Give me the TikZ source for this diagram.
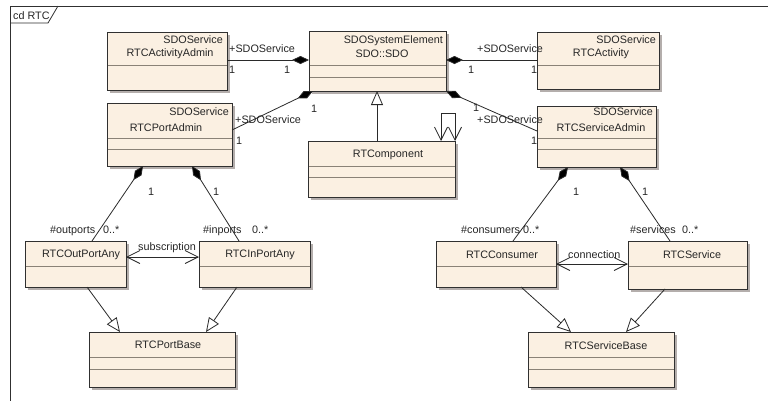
\documentclass[tikz,border=0pt]{standalone}
\usepackage{fontspec}
\setmainfont{Liberation Sans}
\usetikzlibrary{arrows.meta,calc}
\definecolor{boxfill}{HTML}{FBF0E2}
\definecolor{boxline}{HTML}{303030}
\definecolor{divc}{HTML}{8A8277}
\definecolor{shadowc}{HTML}{B4AEAC}
\definecolor{linec}{HTML}{2A2A2A}
\definecolor{txtc}{HTML}{262626}
\newcommand\umlcls[5]{%
  \fill[shadowc] (#2+3,#3+3) rectangle ++(#4,#5);
  \node[cls, minimum width=#4pt, minimum height=#5pt] (#1) at (#2,#3) {};
}
\newcommand\umldiv[2]{%
  \draw[divl] ($(#1.north west)+(0.5,#2)$) -- ($(#1.north east)+(-0.5,#2)$);
}
\begin{document}
\begin{tikzpicture}[x=1pt,y=-1pt,
  cls/.style={draw=boxline, fill=boxfill, line width=1pt, inner sep=0pt, outer sep=0pt, anchor=north west, rectangle},
  divl/.style={draw=divc, line width=1pt},
  txt/.style={text=txtc, inner sep=0pt, font=\fontsize{10.8}{12}\selectfont},
  conn/.style={draw=linec, line width=0.8pt},
  comp/.style={conn, -{Diamond[length=17pt,width=8pt,fill=black]}},
  gen/.style={conn, -{Triangle[length=14pt,width=12pt,fill=white]}},
  nav/.style={conn, {Straight Barb[length=13pt,width=13pt]}-{Straight Barb[length=13pt,width=13pt]}},
]
\useasboundingbox (0,0) rectangle (768,400);
\fill[white] (0,0) rectangle (768,400);
% frame
\draw[draw=boxline, line width=1pt] (10,401) -- (10,6) -- (769,6);
\draw[draw=boxline, line width=0.8pt] (10,23) -- (48,23) -- (58,6);
\node[txt, anchor=base west] (frametitle) at (13,19) {cd RTC};

% classes
\umlcls{aa}{107}{32}{120}{58}
\umldiv{aa}{33}
\umlcls{sdo}{309}{31}{137}{60}
\umldiv{sdo}{34}\umldiv{sdo}{46}
\umlcls{act}{537}{32}{122}{57}
\umldiv{act}{33}
\umlcls{pa}{107}{103}{125}{63}
\umldiv{pa}{35}\umldiv{pa}{46}
\umlcls{sa}{537}{106}{119}{61}
\umldiv{sa}{32}\umldiv{sa}{43}
\umlcls{comp}{308}{141}{147}{56}
\umldiv{comp}{25}\umldiv{comp}{36}
\umlcls{out}{25}{241}{101}{46}
\umldiv{out}{25}
\umlcls{in}{199}{241}{111}{46}
\umldiv{in}{25}
\umlcls{pb}{89}{332}{146}{55}
\umldiv{pb}{25}\umldiv{pb}{37}
\umlcls{con}{436}{241}{120}{46}
\umldiv{con}{25}
\umlcls{srv}{628}{241}{119}{48}
\umldiv{srv}{25}
\umlcls{sb}{528}{332}{146}{55}
\umldiv{sb}{25}\umldiv{sb}{37}

% class texts
\node[txt, anchor=base east] (aa-st) at (223,43) {SDOService};
\node[txt, anchor=base] (aa-nm) at (170,56) {RTCActivityAdmin};
\node[txt, anchor=base east] (sdo-st) at (443,43) {SDOSystemElement};
\node[txt, anchor=base] (sdo-nm) at (382,57) {SDO::SDO};
\node[txt, anchor=base east] (act-st) at (656,43) {SDOService};
\node[txt, anchor=base] (act-nm) at (601,56) {RTCActivity};
\node[txt, anchor=base east] (pa-st) at (229,115) {SDOService};
\node[txt, anchor=base] (pa-nm) at (166,131) {RTCPortAdmin};
\node[txt, anchor=base east] (sa-st) at (653,115) {SDOService};
\node[txt, anchor=base] (sa-nm) at (601,131) {RTCServiceAdmin};
\node[txt, anchor=base] (comp-nm) at (388,157) {RTComponent};
\node[txt, anchor=base] (out-nm) at (81,257) {RTCOutPortAny};
\node[txt, anchor=base] (in-nm) at (260,257) {RTCInPortAny};
\node[txt, anchor=base] (pb-nm) at (168,348) {RTCPortBase};
\node[txt, anchor=base] (con-nm) at (502,258) {RTCConsumer};
\node[txt, anchor=base] (srv-nm) at (692,258) {RTCService};
\node[txt, anchor=base] (sb-nm) at (606,349) {RTCServiceBase};

% compositions to SDO
\draw[comp] ($(aa.north east)+(0,28)$) -- ($(sdo.north west)+(0,29)$);
\draw[comp] ($(act.north west)+(0,28)$) -- ($(sdo.north east)+(0,29)$);
\draw[comp] ($(pa.north east)+(0,27)$) -- ($(sdo.south west)+(4,0)$);
\draw[comp] ($(sa.north west)+(0,25)$) -- (sdo.south east);
% generalization RTComponent -> SDO
\draw[gen] ($(comp.north west)+(69,0)$) -- ($(sdo.south west)+(68,0)$);
% self association
\draw[nav] ($(comp.north west)+(133,0)$) -- ++(0,-28) -| (comp.north east);

% labels of SDO associations
\node[txt, anchor=base west] (l1) at (229,52) {+SDOService};
\node[txt, anchor=base west] (m1a) at (229,73) {1};
\node[txt, anchor=base west] (m1b) at (284,73) {1};
\node[txt, anchor=base west] (l2) at (477,52) {+SDOService};
\node[txt, anchor=base west] (m2a) at (468,73) {1};
\node[txt, anchor=base west] (m2b) at (531,73) {1};
\node[txt, anchor=base west] (l3) at (235,123) {+SDOService};
\node[txt, anchor=base west] (m3a) at (236,144) {1};
\node[txt, anchor=base west] (m3b) at (311,112) {1};
\node[txt, anchor=base west] (l4) at (477,123) {+SDOService};
\node[txt, anchor=base west] (m4a) at (473,111) {1};
\node[txt, anchor=base west] (m4b) at (531,144) {1};

% port compositions
\draw[comp] ($(out.north west)+(67,0)$) -- ($(pa.south west)+(36,0)$);
\draw[comp] ($(in.north west)+(40,0)$) -- ($(pa.south west)+(85,0)$);
\node[txt, anchor=base west] (m5) at (148,195) {1};
\node[txt, anchor=base west] (m6) at (213,195) {1};
\node[txt, anchor=base west] (r5) at (50,233) {\#outports};
\node[txt, anchor=base west] (c5) at (103,233) {0..*};
\node[txt, anchor=base west] (r6) at (203,233) {\#inports};
\node[txt, anchor=base west] (c6) at (252,233) {0..*};
\draw[nav] ($(out.north east)+(0,16)$) -- ($(in.north west)+(0,16)$);
\node[txt, anchor=base west] (sub) at (138,250) {subscription};

% service compositions
\draw[comp] ($(con.north west)+(77,0)$) -- ($(sa.south west)+(31,0)$);
\draw[comp] ($(srv.north west)+(42,0)$) -- ($(sa.south west)+(83,0)$);
\node[txt, anchor=base west] (m8) at (573,195) {1};
\node[txt, anchor=base west] (m9) at (642,195) {1};
\node[txt, anchor=base west] (r8) at (461,233) {\#consumers};
\node[txt, anchor=base west] (c8) at (523,233) {0..*};
\node[txt, anchor=base west] (r9) at (630,233) {\#services};
\node[txt, anchor=base west] (c9) at (682,233) {0..*};
\draw[nav] ($(con.north east)+(0,23)$) -- ($(srv.north west)+(0,23)$);
\node[txt, anchor=base west] (cnx) at (568,258) {connection};

% generalizations to bases
\draw[gen] ($(out.south west)+(62,0)$) -- ($(pb.north west)+(31,0)$);
\draw[gen] ($(in.south west)+(38,0)$) -- ($(pb.north west)+(117,0)$);
\draw[gen] ($(con.south west)+(85,0)$) -- ($(sb.north west)+(43,0)$);
\draw[gen] ($(srv.south west)+(37,0)$) -- ($(sb.north west)+(98,0)$);
\end{tikzpicture}
\end{document}
